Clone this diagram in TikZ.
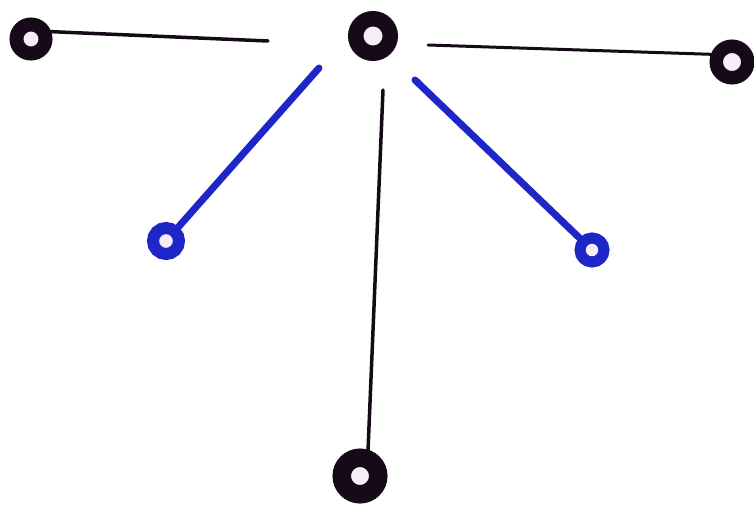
\documentclass[tikz,border=0pt]{standalone}
\usepackage{tikz}
\usepackage{xcolor}
\definecolor{ink}{RGB}{22,10,24}
\definecolor{pen}{RGB}{30,38,200}
\definecolor{hole}{RGB}{246,238,246}

\begin{document}
\begin{tikzpicture}[x=1pt, y=-1pt,
    ball/.style={circle, draw=ink, fill=hole, inner sep=0pt},
    blueball/.style={ball, draw=pen},
    stroke/.style={ink, line width=3.5pt, line cap=round},
    bluestroke/.style={pen, line width=7pt, line cap=round}
  ]
    \fill[white] (0,0) rectangle (754,508);
    \useasboundingbox (0,0) rectangle (754,508);

    \node[ball, line width=15.5pt, minimum size=34.5pt] (hub) at (373,36) {};
    \node[ball, line width=14pt, minimum size=29pt] (west) at (31,39) {};
    \node[ball, line width=13.5pt, minimum size=31.5pt] (east) at (732,62) {};
    \node[ball, line width=18.5pt, minimum size=36.5pt] (south) at (360,476) {};
    \node[blueball, line width=12pt, minimum size=26pt] (southwest) at (166,241) {};
    \node[blueball, line width=11pt, minimum size=24pt] (southeast) at (592,250) {};

    \coordinate (westgap) at (268,41);
    \coordinate (eastgap) at (428,45);
    \coordinate (southgap) at (383,90);
    \coordinate (swgap) at (319,68);
    \coordinate (segap) at (415,80);

    \draw[stroke] (west.20) -- (westgap);
    \draw[stroke, line width=3pt] (eastgap) -- (east.160);
    \draw[stroke] (southgap) -- (south.73);
    \draw[bluestroke] (swgap) -- (southwest);
    \draw[bluestroke] (segap) -- (southeast);
  \end{tikzpicture}
\end{document}
